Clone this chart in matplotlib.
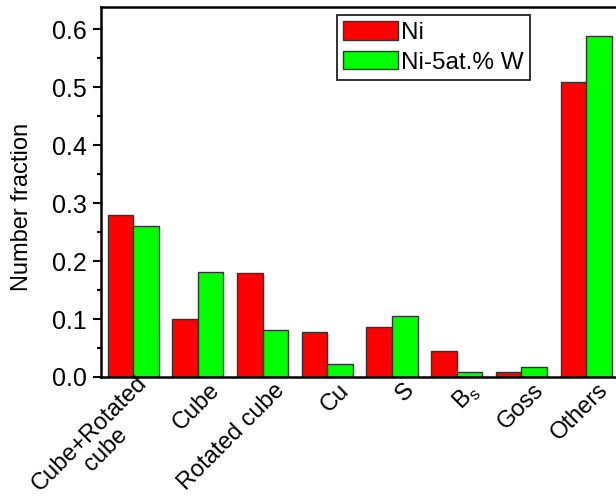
import numpy as np
import matplotlib
matplotlib.use("Agg")
import matplotlib.pyplot as plt
from matplotlib.ticker import MultipleLocator


# ==========================================
# Data
# ==========================================

categories = ["Cube+Rotated\ncube", "Cube", "Rotated cube", "Cu", "S",
              r"B$_{\rm s}$", "Goss", "Others"]

ni_values = [0.280, 0.100, 0.180, 0.077, 0.086, 0.044, 0.009, 0.509]
niw_values = [0.260, 0.181, 0.081, 0.023, 0.106, 0.009, 0.018, 0.588]

series_labels = ["Ni", "Ni-5at.% W"]
series_colors = ["#ff0000", "#00ff00"]


# ==========================================
# Plot
# ==========================================

plt.rcParams["font.family"] = ["Liberation Sans", "DejaVu Sans"]
plt.rcParams["mathtext.fontset"] = "custom"
plt.rcParams["mathtext.rm"] = "Liberation Sans"

fig = plt.figure(figsize=(6.16, 5.03), dpi=100)
ax = fig.add_axes([0.1635, 0.2505, 0.8405, 0.7355])

x = np.arange(len(categories))
width = 0.395

ax.bar(x - width / 2, ni_values, width, color=series_colors[0],
       edgecolor="#333333", linewidth=1.0, label=series_labels[0])
ax.bar(x + width / 2, niw_values, width, color=series_colors[1],
       edgecolor="#333333", linewidth=1.0, label=series_labels[1])

ax.set_xlim(-0.5, len(categories) - 0.5)
ax.set_ylim(0, 0.638)

ax.yaxis.set_major_locator(MultipleLocator(0.1))
ax.yaxis.set_minor_locator(MultipleLocator(0.05))
ax.yaxis.set_major_formatter(plt.FuncFormatter(lambda v, p: f"{v:.1f}"))

# labels sit a little right of the group centre, as in the original
ax.set_xticks(x + 0.26)
ax.set_xticklabels(categories, rotation=45, ha="right", va="center_baseline",
                   rotation_mode="anchor", multialignment="center",
                   fontsize=17, linespacing=1.05)
ax.tick_params(axis="x", length=0, pad=6)
ax.tick_params(axis="y", which="major", direction="out", length=6,
               width=1.5, labelsize=18, pad=4)
ax.tick_params(axis="y", which="minor", direction="out", length=3,
               width=1.5)

for spine in ax.spines.values():
    spine.set_linewidth(1.8)

fig.text(22 / 616, 1 - 207 / 503, "Number fraction", rotation=90,
         ha="center", va="center", fontsize=17)

leg = ax.legend(loc="upper left", bbox_to_anchor=(0.456, 0.978),
                borderaxespad=0, fontsize=17.5, handlelength=2.25,
                handleheight=0.8, handletextpad=0.15, labelspacing=0.28,
                borderpad=0.25, fancybox=False, framealpha=1)
leg.get_frame().set_edgecolor("#222222")
leg.get_frame().set_linewidth(1.3)

fig.savefig("out.png", dpi=100)
